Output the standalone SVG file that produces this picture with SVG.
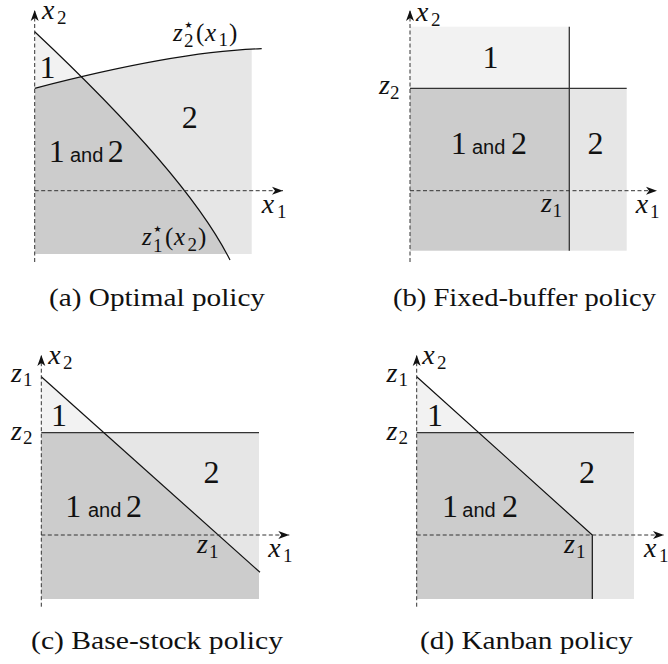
<svg xmlns="http://www.w3.org/2000/svg" width="668" height="664" viewBox="0 0 668 664">
<style>
.bg{fill:#ffffff}
.lt{fill:#f2f2f2}
.md{fill:#e6e6e6}
.dk{fill:#cccccc}
.ax{stroke:#333;stroke-width:1;stroke-dasharray:4 2.5;fill:none}
.ln{stroke:#111;stroke-width:1.2;fill:none}
.ln2{stroke:#333;stroke-width:1.3;fill:none}
.mi{font-family:'Liberation Serif','Times New Roman',serif;font-style:italic;font-size:28px;fill:#111}
.cl{font-family:'Liberation Serif','Times New Roman',serif;font-style:italic;font-size:25px;fill:#111}
.rm{font-family:'Liberation Serif','Times New Roman',serif;font-size:25px;fill:#111}
.sub{font-family:'Liberation Serif','Times New Roman',serif;font-size:19px;fill:#111}
.big{font-family:'Liberation Serif','Times New Roman',serif;font-size:32px;text-anchor:middle;fill:#111}
.and{font-family:'Liberation Sans',Arial,sans-serif;font-size:20px;fill:#111}
.star{font-family:'DejaVu Sans',sans-serif;font-size:9px;fill:#111}
.cap{font-family:'Liberation Serif','Times New Roman',serif;font-size:26px;fill:#111}
</style>
<defs>
<marker id="arr" markerWidth="12" markerHeight="10" refX="11" refY="5" orient="auto" markerUnits="userSpaceOnUse">
<path d="M0,1 L11,5 L0,9 L3,5 Z" fill="#111"/>
</marker>
<clipPath id="leftA"><path d="M34.7,31.7 Q187.8,175.6 230,260 L34.7,260 Z"/></clipPath>
<clipPath id="rectA"><rect x="34.7" y="0" width="217" height="264"/></clipPath>
</defs>
<rect class="bg" x="0" y="0" width="668" height="664"/>

<g id="panel-a">
<rect class="lt" x="34.7" y="30" width="200" height="224" clip-path="url(#leftA)"/>
<path class="md" d="M34.7,88.3 Q177.3,51.2 261.7,48.7 L261.7,254 L34.7,254 Z" clip-path="url(#rectA)"/>
<path class="dk" d="M34.7,88.3 Q177.3,51.2 261.7,48.7 L261.7,254 L34.7,254 Z" clip-path="url(#leftA)"/>
<path class="ln" d="M34.7,88.3 Q177.3,51.2 261.7,48.7"/>
<path class="ln" d="M34.7,31.7 Q187.8,175.6 230,260"/>
<text class="mi" x="42" y="19">x</text><text class="sub" x="57" y="24">2</text>
<text class="mi" x="261.7" y="213">x</text><text class="sub" x="277" y="218">1</text>
<text class="big" x="47.5" y="78">1</text>
<text class="big" x="189.7" y="128">2</text>
<text class="big" x="56.7" y="162">1</text><text class="and" x="70" y="162">and</text><text class="big" x="115.8" y="162">2</text>
<text class="cl" x="173" y="41">z</text><text class="star" x="184.5" y="28">★</text><text class="sub" x="184" y="47">2</text><text class="rm" x="196" y="41">(</text><text class="cl" x="205" y="41">x</text><text class="sub" x="218.5" y="46">1</text><text class="rm" x="229" y="41">)</text>
<text class="cl" x="142" y="245">z</text><text class="star" x="153.5" y="232">★</text><text class="sub" x="153" y="252">1</text><text class="rm" x="165" y="245">(</text><text class="cl" x="174" y="245">x</text><text class="sub" x="187.5" y="251">2</text><text class="rm" x="198" y="245">)</text>
</g>

<g id="panel-b">
<rect class="lt" x="410" y="26.7" width="159.3" height="61.6"/>
<rect class="dk" x="410" y="88.3" width="159.3" height="162.4"/>
<rect class="md" x="569.3" y="88.3" width="57.4" height="162.4"/>
<line class="ln2" x1="410" y1="88.3" x2="626.7" y2="88.3"/>
<line class="ln2" x1="569.3" y1="26.7" x2="569.3" y2="250.7"/>
<text class="mi" x="416" y="21">x</text><text class="sub" x="431" y="26">2</text>
<text class="mi" x="379" y="94">z</text><text class="sub" x="390" y="99">2</text>
<text class="big" x="490.5" y="68">1</text>
<text class="big" x="458.7" y="154">1</text><text class="and" x="472" y="154">and</text><text class="big" x="519" y="154">2</text>
<text class="big" x="595.5" y="154">2</text>
<text class="mi" x="541" y="212">z</text><text class="sub" x="552.5" y="217">1</text>
<text class="mi" x="635.7" y="213">x</text><text class="sub" x="650" y="218">1</text>
</g>

<g id="panel-c">
<path class="lt" d="M41.3,376.7 L103.9,432.7 L41.3,432.7 Z"/>
<path class="md" d="M103.9,432.7 L259,432.7 L259,571.4 Z"/>
<path class="dk" d="M41.3,432.7 L103.9,432.7 L259,571.4 L259,599 L41.3,599 Z"/>
<line class="ln2" x1="41.3" y1="432.7" x2="259" y2="432.7"/>
<line class="ln" x1="41.3" y1="376.7" x2="260" y2="572.3"/>
<text class="mi" x="11" y="381.7">z</text><text class="sub" x="23" y="386">1</text>
<text class="mi" x="48.3" y="364">x</text><text class="sub" x="63" y="369">2</text>
<text class="mi" x="11" y="440">z</text><text class="sub" x="23" y="444">2</text>
<text class="big" x="59" y="426">1</text>
<text class="big" x="211.5" y="482.7">2</text>
<text class="big" x="73.3" y="516.7">1</text><text class="and" x="88" y="516.7">and</text><text class="big" x="134" y="516.7">2</text>
<text class="mi" x="197" y="553.3">z</text><text class="sub" x="209" y="558">1</text>
<text class="mi" x="268.3" y="556.7">x</text><text class="sub" x="283" y="562">1</text>
</g>

<g id="panel-d">
<path class="lt" d="M416.7,376.7 L478.8,432.7 L416.7,432.7 Z"/>
<path class="md" d="M478.8,432.7 L634,432.7 L634,599 L592.3,599 L592.3,535 Z"/>
<path class="dk" d="M416.7,432.7 L478.8,432.7 L592.3,535 L592.3,599 L416.7,599 Z"/>
<line class="ln2" x1="416.7" y1="432.7" x2="634" y2="432.7"/>
<polyline class="ln" points="416.7,376.7 592.3,535 592.3,599"/>
<text class="mi" x="386.5" y="381.7">z</text><text class="sub" x="398.5" y="386">1</text>
<text class="mi" x="422.3" y="364">x</text><text class="sub" x="437" y="369">2</text>
<text class="mi" x="386.5" y="440">z</text><text class="sub" x="398.5" y="444">2</text>
<text class="big" x="435" y="426">1</text>
<text class="big" x="587" y="482.7">2</text>
<text class="big" x="450" y="516.7">1</text><text class="and" x="462.3" y="516.7">and</text><text class="big" x="510" y="516.7">2</text>
<text class="mi" x="564" y="553.3">z</text><text class="sub" x="576" y="558">1</text>
<text class="mi" x="644" y="556.7">x</text><text class="sub" x="659" y="562">1</text>
</g>

<g id="connectors">
<line class="ax" x1="34.7" y1="262" x2="34.7" y2="10" marker-end="url(#arr)"/>
<line class="ax" x1="34.7" y1="190.7" x2="283" y2="190.7" marker-end="url(#arr)"/>
<line class="ax" x1="410" y1="262" x2="410" y2="10" marker-end="url(#arr)"/>
<line class="ax" x1="410" y1="190.7" x2="657" y2="190.7" marker-end="url(#arr)"/>
<line class="ax" x1="41.3" y1="606.7" x2="41.3" y2="355" marker-end="url(#arr)"/>
<line class="ax" x1="41.3" y1="535" x2="289.3" y2="535" marker-end="url(#arr)"/>
<line class="ax" x1="416.7" y1="606.7" x2="416.7" y2="355" marker-end="url(#arr)"/>
<line class="ax" x1="416.7" y1="535" x2="664" y2="535" marker-end="url(#arr)"/>
</g>

<g id="captions">
<text class="cap" x="49" y="306" textLength="216" lengthAdjust="spacingAndGlyphs">(a) Optimal policy</text>
<text class="cap" x="393" y="306" textLength="263" lengthAdjust="spacingAndGlyphs">(b) Fixed-buffer policy</text>
<text class="cap" x="31" y="649" textLength="252" lengthAdjust="spacingAndGlyphs">(c) Base-stock policy</text>
<text class="cap" x="420" y="649" textLength="213" lengthAdjust="spacingAndGlyphs">(d) Kanban policy</text>
</g>
</svg>
